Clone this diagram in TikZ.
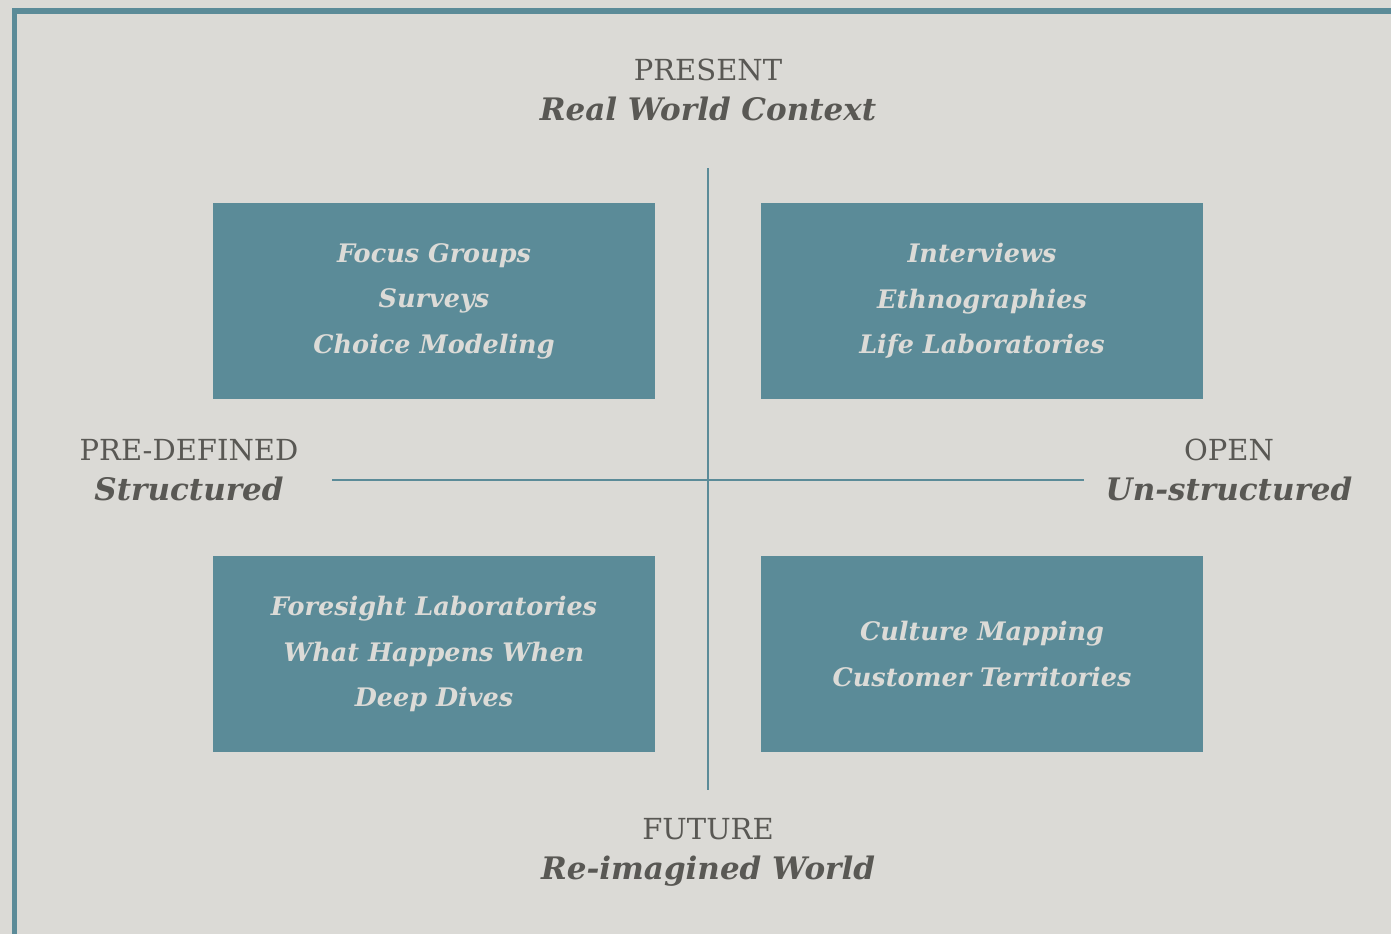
\documentclass[tikz,border=0pt]{standalone}
\usepackage{fontspec}
\setmainfont{DejaVu Serif}
\definecolor{paper}{HTML}{DBDAD6}
\definecolor{teal}{HTML}{5B8B98}
\definecolor{ink}{HTML}{595854}
\definecolor{pale}{HTML}{DCDBD7}
\newcommand{\axisname}[1]{{\fontsize{31}{40}\selectfont\bfseries\itshape #1}}
\tikzset{
  methodbox/.style={fill=teal, text=pale, minimum width=442pt, minimum height=196pt,
    align=center, inner sep=0pt, font=\fontsize{25.5}{45.5}\selectfont\bfseries\itshape},
  axislabel/.style={text=ink, align=center, inner sep=0pt, font=\fontsize{29}{40}\selectfont},
  axisline/.style={draw=teal, line width=2.8pt}
}
\begin{document}
\begin{tikzpicture}[x=1pt, y=-1pt]
  \useasboundingbox (0,0) rectangle (1391,934);
  \fill[paper] (0,0) rectangle (1391,934);
  \fill[teal] (12,8) rectangle (1391,14);
  \fill[teal] (12,8) rectangle (17,934);
  % axes
  \coordinate (top) at (708,168);
  \coordinate (bottom) at (708,790);
  \coordinate (left) at (332,480);
  \coordinate (right) at (1084,480);
  \draw[axisline] (top) -- (bottom);
  \draw[axisline] (left) -- (right);
  % quadrants
  \node[methodbox] (structpresent) at (434,301) {Focus Groups\\Surveys\\Choice Modeling};
  \node[methodbox] (openpresent)   at (982,301) {Interviews\\Ethnographies\\Life Laboratories};
  \node[methodbox] (structfuture)  at (434,654) {Foresight Laboratories\\What Happens When\\Deep Dives};
  \node[methodbox] (openfuture)    at (982,654) {Culture Mapping\\Customer Territories};
  % axis labels
  \node[axislabel] (present) at (708,90)  {PRESENT\\\axisname{Real World Context}};
  \node[axislabel] (future)  at (708,852) {FUTURE\\\axisname{Re-imagined World}};
  \node[axislabel] (predef)  at (189,470) {PRE-DEFINED\\\axisname{Structured}};
  \node[axislabel] (open)    at (1229,470) {OPEN\\\axisname{Un-structured}};
\end{tikzpicture}
\end{document}
